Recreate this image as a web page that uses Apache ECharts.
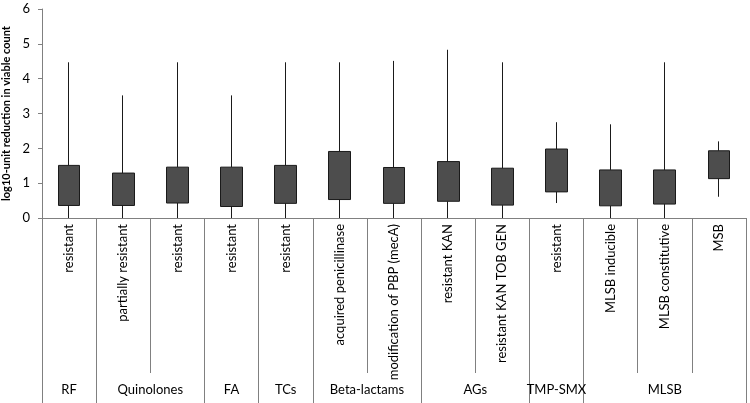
<!DOCTYPE html>
<html>
<head>
<meta charset="utf-8">
<script src="https://cdn.jsdelivr.net/npm/echarts@6/dist/echarts.min.js"></script>
<style>html,body{margin:0;padding:0;background:#fff}#c{width:750px;height:403px}</style>
</head>
<body>
<div id="c"></div>
<script>
var subLabels = ['resistant','partially resistant','resistant','resistant','resistant','acquired penicillinase','modification of PBP (mecA)','resistant KAN','resistant KAN TOB GEN','resistant','MLSB inducible','MLSB constitutive','MSB'];
var groupNames = ['RF','Quinolones','FA','TCs','Beta-lactams','AGs','TMP-SMX','MLSB'];
var groupSizes = [1,2,1,1,2,2,1,3];
var minVals = [0,0,0,0,0,0,0,0,0,0.43,0,0,0.61];
var q1Vals  = [0.36,0.36,0.43,0.33,0.42,0.53,0.42,0.48,0.37,0.75,0.35,0.40,1.13];
var q3Vals  = [1.51,1.29,1.46,1.46,1.51,1.91,1.45,1.62,1.43,1.98,1.38,1.38,1.93];
var maxVals = [4.47,3.52,4.47,3.52,4.47,4.47,4.51,4.83,4.47,2.75,2.69,4.47,2.20];
var yTicks = [0,1,2,3,4,5,6];

var cats = subLabels.map(function(_, i){ return String(i); });
var bounds = [0], centers = [], acc = 0;
groupSizes.forEach(function(s){ centers.push(acc + s/2); acc += s; bounds.push(acc); });

var candle = subLabels.map(function(_, i){ return [q1Vals[i], q3Vals[i], minVals[i], maxVals[i]]; });

var font = 'Lato, "Open Sans", sans-serif';
var chart = echarts.init(document.getElementById('c'), null, {renderer:'canvas'});
chart.setOption({
  animation: false,
  grid: {left: 42, right: 4, top: 9, bottom: 185, containLabel: false, outerBoundsMode: 'none'},
  xAxis: [{
    type: 'category', data: cats, boundaryGap: true, position: 'bottom',
    axisLine: {show: true, lineStyle: {color: '#808080', width: 1}},
    axisTick: {show: true, interval: 0, length: 155, lineStyle: {color: '#808080', width: 1}},
    axisLabel: {interval: 0, rotate: 90, margin: 6, fontFamily: font, fontSize: 13, color: '#000',
      formatter: function(v){ return subLabels[+v]; }},
    splitLine: {show: false}
  }, {
    type: 'value', min: 0, max: bounds[bounds.length-1], position: 'bottom', offset: 0,
    axisLine: {show: false},
    axisTick: {show: true, customValues: bounds, length: 185, lineStyle: {color: '#808080', width: 1}},
    axisLabel: {show: true, customValues: centers, margin: 165, fontFamily: font, fontSize: 13, color: '#000',
      formatter: function(v){ var k = centers.indexOf(v); return k >= 0 ? groupNames[k] : ''; }},
    splitLine: {show: false}
  }],
  yAxis: {
    type: 'value', min: yTicks[0], max: yTicks[yTicks.length-1], interval: 1,
    name: 'log10-unit reduction in viable count', nameLocation: 'middle', nameGap: 27,
    nameTextStyle: {fontFamily: font, fontSize: 11, fontWeight: 'bold', color: '#000'},
    axisLine: {show: true, lineStyle: {color: '#808080'}},
    axisTick: {show: true, length: 4, lineStyle: {color: '#808080'}},
    axisLabel: {fontFamily: font, fontSize: 13, color: '#000', margin: 12},
    splitLine: {show: false}
  },
  series: [{
    type: 'candlestick', xAxisIndex: 0, data: candle, barWidth: '41%',
    itemStyle: {color: '#4d4d4d', color0: '#4d4d4d', borderColor: '#1a1a1a', borderColor0: '#1a1a1a', borderWidth: 1}
  }]
});
</script>
</body>
</html>
